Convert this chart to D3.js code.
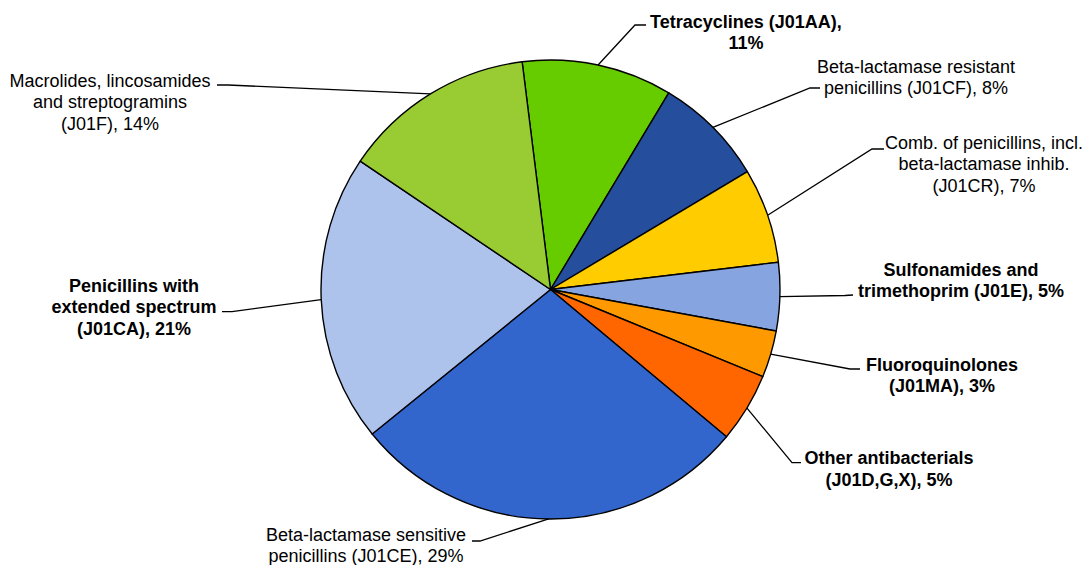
<!DOCTYPE html>
<html>
<head>
<meta charset="utf-8">
<script src="https://cdn.jsdelivr.net/npm/d3@7"></script>
<style>
  html, body { margin: 0; padding: 0; background: #fff; }
  svg { display: block; }
  text { font-family: "Liberation Sans", Arial, sans-serif; font-size: 18px; fill: #000; }
</style>
</head>
<body>
<svg id="chart" width="1090" height="565"></svg>
<script>
// ---- data ----
const categories = [
  "Tetracyclines (J01AA)",
  "Beta-lactamase resistant penicillins (J01CF)",
  "Comb. of penicillins, incl. beta-lactamase inhib. (J01CR)",
  "Sulfonamides and trimethoprim (J01E)",
  "Fluoroquinolones (J01MA)",
  "Other antibacterials (J01D,G,X)",
  "Beta-lactamase sensitive penicillins (J01CE)",
  "Penicillins with extended spectrum (J01CA)",
  "Macrolides, lincosamides and streptogramins (J01F)"
];
const values = [10.6, 7.8, 6.7, 4.8, 3.3, 4.9, 28.1, 20.3, 13.6];
const labelLines = [
  ["Tetracyclines (J01AA),", "11%"],
  ["Beta-lactamase resistant", "penicillins (J01CF), 8%"],
  ["Comb. of penicillins, incl.", "beta-lactamase inhib.", "(J01CR), 7%"],
  ["Sulfonamides and", "trimethoprim (J01E), 5%"],
  ["Fluoroquinolones", "(J01MA), 3%"],
  ["Other antibacterials", "(J01D,G,X), 5%"],
  ["Beta-lactamase sensitive", "penicillins (J01CE), 29%"],
  ["Penicillins with", "extended spectrum", "(J01CA), 21%"],
  ["Macrolides, lincosamides", "and streptogramins", "(J01F), 14%"]
];
const boldLabels = [true, false, false, true, true, true, false, true, false];

// ---- styles / layout ----
const colors = ["#66CC00", "#254F9C", "#FFCC00", "#86A4E0", "#FF9900", "#FF6600", "#3366CC", "#AEC3EB", "#99CC33"];
// text center x, first baseline y, text-side leader point, elbow point
const labelLayout = [
  {x: 746, y: 27.5, tp: [646, 25], ep: [635, 25]},
  {x: 916, y: 72.5, tp: [820, 88], ep: [810, 88]},
  {x: 984, y: 148.5, tp: [884, 149], ep: [872, 149]},
  {x: 961, y: 275.7, tp: [853, 295], ep: [845, 295.5]},
  {x: 942, y: 370.5, tp: [860, 369], ep: [850, 369]},
  {x: 889, y: 464, tp: [801, 462.7], ep: [792, 462.7]},
  {x: 366, y: 540.8, tp: [472, 541], ep: [480, 541]},
  {x: 134, y: 291.5, tp: [222, 311.7], ep: [232, 311.7]},
  {x: 110, y: 86.5, tp: [217, 85], ep: [228, 85]}
];
const lineStep = 21.5;
const cx = 550.5, cy = 289.5, R = 229.5;
const startDeg = -7.1;

const svg = d3.select("#chart");
const g = svg.append("g").attr("transform", `translate(${cx},${cy})`);

const pie = d3.pie().sort(null).value(d => d)
  .startAngle(startDeg * Math.PI / 180)
  .endAngle(startDeg * Math.PI / 180 + 2 * Math.PI);
const arcs = pie(values);
const arc = d3.arc().innerRadius(0).outerRadius(R);

g.selectAll("path.slice")
  .data(arcs)
  .join("path")
  .attr("class", "slice")
  .attr("d", arc)
  .attr("fill", (d, i) => colors[i])
  .attr("stroke", "#000")
  .attr("stroke-width", 1.4)
  .attr("stroke-linejoin", "round");

// leader lines
const line = d3.line();
svg.selectAll("path.leader")
  .data(arcs)
  .join("path")
  .attr("class", "leader")
  .attr("fill", "none")
  .attr("stroke", "#000")
  .attr("stroke-width", 1.3)
  .attr("d", (d, i) => {
    const a = (d.startAngle + d.endAngle) / 2;
    const edge = [cx + R * Math.sin(a), cy - R * Math.cos(a)];
    const L = labelLayout[i];
    return line([L.tp, L.ep, edge]);
  });

// labels
const labels = svg.selectAll("text.label")
  .data(arcs)
  .join("text")
  .attr("class", "label")
  .attr("text-anchor", "middle")
  .attr("font-weight", (d, i) => boldLabels[i] ? "bold" : "normal");
labels.each(function(d, i) {
  const L = labelLayout[i];
  d3.select(this).selectAll("tspan")
    .data(labelLines[i])
    .join("tspan")
    .attr("x", L.x)
    .attr("y", (t, j) => L.y + j * lineStep)
    .text(t => t);
});
</script>
</body>
</html>
